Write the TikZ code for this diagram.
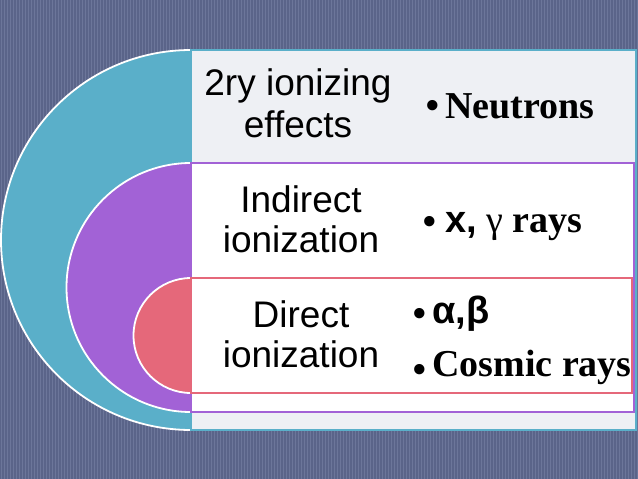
\documentclass[tikz,border=0pt]{standalone}
\usepackage{fontspec}
\setmainfont{Liberation Serif}
\newfontfamily\arialfont{Liberation Sans}
\definecolor{bgc}{HTML}{5A6489}
\definecolor{bgl}{HTML}{6C769A}
\definecolor{tealc}{HTML}{5AAFC9}
\definecolor{purc}{HTML}{A262D6}
\definecolor{redc}{HTML}{E5687A}
\definecolor{paleg}{HTML}{EEF0F4}
\newcommand\mybul[2]{\llap{\raisebox{#1}{\arialfont\fontsize{36}{36}\selectfont •}\hspace{#2}}}
\tikzset{
  halfdisk/.style={draw=white, line width=1.8pt},
  band/.style={line width=1.4pt},
  lefttext/.style={inner sep=0pt, anchor=base, font=\arialfont\fontsize{37}{40}\selectfont},
  righttext/.style={inner sep=0pt, anchor=base west, font=\bfseries\fontsize{38}{40}\selectfont},
}
\begin{document}
\begin{tikzpicture}[x=1pt,y=-1pt]
\useasboundingbox (0,0) rectangle (638,479);
% background
\fill[bgc] (0,0) rectangle (638,479);
\foreach \x in {1,4,...,638} \draw[bgl, line width=0.6pt] (\x,0) -- (\x,479);
% outer teal
\begin{scope}
  \clip (0,0) rectangle (191,479);
  \draw[halfdisk, fill=tealc] (191,240) circle[radius=190];
\end{scope}
\draw[band, draw=tealc, fill=paleg] (191,50) rectangle (636,430);
% purple
\begin{scope}
  \clip (0,0) rectangle (191,479);
  \draw[halfdisk, fill=purc] (191,287.5) circle[radius=124.5];
\end{scope}
\draw[band, draw=purc, fill=white] (191,163) rectangle (634,412);
% red
\begin{scope}
  \clip (0,0) rectangle (191,479);
  \draw[halfdisk, fill=redc] (191,335.5) circle[radius=57.5];
\end{scope}
\draw[band, draw=redc, fill=white] (191,278) rectangle (632,393);
% left texts
\node[lefttext] (l1) at (298,95) {\begin{tabular}[t]{@{}c@{}}2ry ionizing\\[2pt]effects\end{tabular}};
\node[lefttext] (l2) at (301,212) {\begin{tabular}[t]{@{}c@{}}Indirect\\ionization\end{tabular}};
\node[lefttext] (l3) at (301,327) {\begin{tabular}[t]{@{}c@{}}Direct\\ionization\end{tabular}};
% right texts
\node[righttext] (r1) at (445,118) {\mybul{1pt}{6pt}Neutrons};
\node[righttext] (r2) at (445,232) {\mybul{-1pt}{9pt}{\arialfont x,} {\mdseries γ} rays};
\node[righttext] (r3) at (432,323) {\mybul{-2pt}{6pt}{\arialfont α,β}};
\node[righttext] (r4) at (432,376) {\mybul{-5pt}{6pt}Cosmic rays};
\end{tikzpicture}
\end{document}
